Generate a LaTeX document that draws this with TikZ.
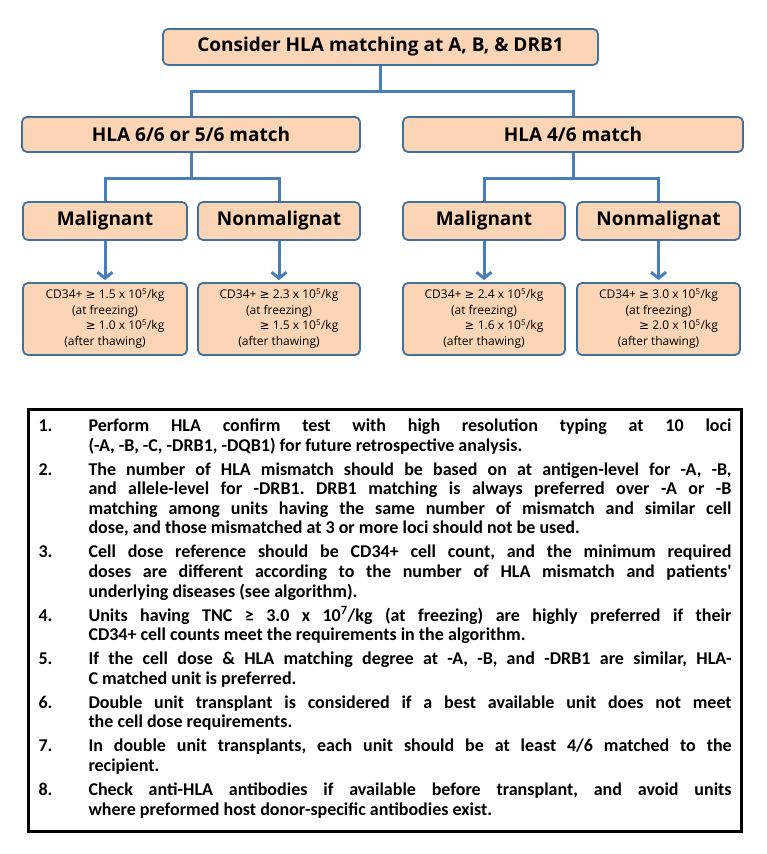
\documentclass[tikz,border=0pt]{standalone}
\usepackage{fontspec}
\setmainfont{Open Sans}
\newfontfamily\listfont{Carlito}
\newfontfamily\symfont{DejaVu Sans}
\usetikzlibrary{arrows.meta}
\definecolor{peach}{HTML}{FBD5B5}
\definecolor{bordr}{HTML}{41719C}
\definecolor{connc}{HTML}{4A7EBB}
\newcommand{\gesym}{{\symfont ≥}}
\newcommand{\valtext}[2]{\begin{tabular}{@{}r@{}}CD34+ \gesym{} #1 x 10\textsuperscript{5}/kg\\
\multicolumn{1}{@{}c@{}}{(at freezing)}\\
\gesym{} #2 x 10\textsuperscript{5}/kg\\
\multicolumn{1}{@{}c@{}}{(after thawing)}\end{tabular}}
\newcommand{\leftlabel}[1]{#1\hfil}
\begin{document}
\begin{tikzpicture}[x=1pt,y=-1pt,
  box/.style={draw=bordr, line width=1.8pt, fill=peach, rounded corners=5pt, inner sep=0pt, text=black},
  bigbox/.style={box, font=\bfseries\fontsize{19}{22}\selectfont},
  midbox/.style={box, font=\bfseries\fontsize{19}{22}\selectfont, minimum height=38pt},
  valbox/.style={box, font=\fontsize{12}{15.5}\selectfont, minimum height=72pt},
  conn/.style={draw=connc, line width=3pt},
  arr/.style={conn, -{Straight Barb[length=6pt,width=15pt,line width=3pt]}, shorten >=2pt}]
\useasboundingbox (0,0) rectangle (767,854);
\fill[white] (0,0) rectangle (767,854);

\node[bigbox, minimum width=435pt, minimum height=36pt] (top) at (380.5,47) {Consider HLA matching at A, B, \& DRB1};
\node[bigbox, minimum width=338pt, minimum height=35pt] (ha) at (191,134.5) {HLA 6/6 or 5/6 match};
\node[bigbox, minimum width=340pt, minimum height=35pt] (hb) at (573,134.5) {HLA 4/6 match};

\node[midbox, minimum width=164pt] (ma) at (105,221) {Malignant};
\node[midbox, minimum width=162pt] (na) at (279,221) {Nonmalignat};
\node[midbox, minimum width=162pt] (mb) at (484,221) {Malignant};
\node[midbox, minimum width=163pt] (nb) at (658.5,221) {Nonmalignat};

\node[valbox, minimum width=164pt] (va) at (105,319) {\valtext{1.5}{1.0}};
\node[valbox, minimum width=162pt] (vb) at (279,319) {\valtext{2.3}{1.5}};
\node[valbox, minimum width=162pt] (vc) at (484,319) {\valtext{2.4}{1.6}};
\node[valbox, minimum width=163pt] (vd) at (658.5,319) {\valtext{3.0}{2.0}};

\draw[conn] (top.south) -- ++(0,26) -| (ha.north);
\draw[conn] (top.south) -- ++(0,26) -| (hb.north);
\draw[conn] (ha.south) -- ++(0,26) -| (ma.north);
\draw[conn] (ha.south) -- ++(0,26) -| (na.north);
\draw[conn] (hb.south) -- ++(0,26) -| (mb.north);
\draw[conn] (hb.south) -- ++(0,26) -| (nb.north);

\draw[arr] (ma.south) -- (va.north);
\draw[arr] (na.south) -- (vb.north);
\draw[arr] (mb.south) -- (vc.north);
\draw[arr] (nb.south) -- (vd.north);

\node[draw=black, line width=3pt, minimum width=713pt, minimum height=422pt, inner xsep=10pt, inner ysep=0pt, text width=693pt, align=justify, anchor=north west] (notes) at (27,408) {%
\listfont\bfseries\fontsize{18}{19.6}\selectfont\frenchspacing
\vspace*{-11pt}
\begin{list}{}{\leftmargin=50pt \labelwidth=40pt \labelsep=10pt \itemsep=4.4pt \parsep=0pt \topsep=0pt \partopsep=0pt \rightmargin=0pt \let\makelabel\leftlabel}
\item[1.] Perform HLA confirm test with high resolution typing at 10 loci\linebreak (-A, -B, -C, -DRB1, -DQB1) for future retrospective analysis.
\item[2.] The number of HLA mismatch should be based on at antigen-level for -A, -B,\linebreak and allele-level for -DRB1. DRB1 matching is always preferred over -A or -B\linebreak matching among units having the same number of mismatch and similar cell\linebreak dose, and those mismatched at 3 or more loci should not be used.
\item[3.] Cell dose reference should be CD34+ cell count, and the minimum required\linebreak doses are different according to the number of HLA mismatch and patients'\linebreak underlying diseases (see algorithm).
\item[4.] Units having TNC ≥ 3.0 x 10\textsuperscript{7}/kg (at freezing) are highly preferred if their\linebreak CD34+ cell counts meet the requirements in the algorithm.
\item[5.] If the cell dose \& HLA matching degree at -A, -B, and -DRB1 are similar, HLA-\linebreak C matched unit is preferred.
\item[6.] Double unit transplant is considered if a best available unit does not meet\linebreak the cell dose requirements.
\item[7.] In double unit transplants, each unit should be at least 4/6 matched to the\linebreak recipient.
\item[8.] Check anti-HLA antibodies if available before transplant, and avoid units\linebreak where preformed host donor-specific antibodies exist.
\end{list}};
\end{tikzpicture}
\end{document}
